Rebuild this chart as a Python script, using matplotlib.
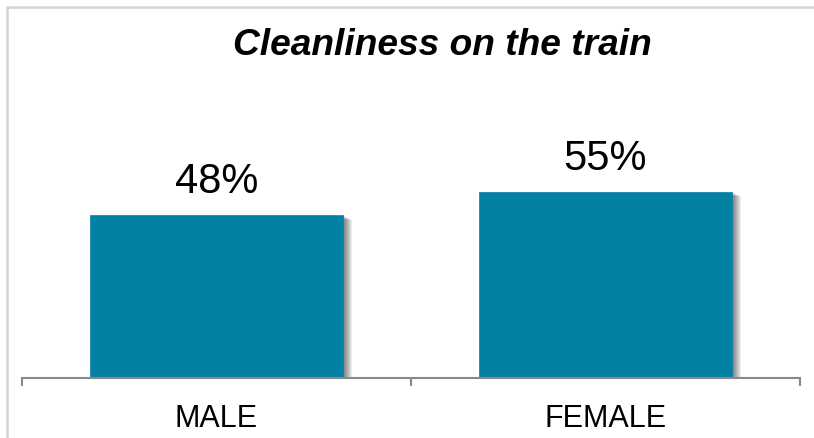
import matplotlib
matplotlib.use("Agg")
import matplotlib.pyplot as plt
import matplotlib.patheffects as pe
from matplotlib.lines import Line2D
from matplotlib.transforms import blended_transform_factory, offset_copy

categories = ["MALE", "FEMALE"]
values = [48, 55]
value_labels = ["48%", "55%"]
title = "Cleanliness on the train"

W, H, DPI = 814, 438, 100
fig = plt.figure(figsize=(W / DPI, H / DPI), dpi=DPI)
plt.rcParams['font.family'] = ['Liberation Sans', 'DejaVu Sans']

# figure border (top & left visible)
bx, by = 6.5 / W, 1 - 6.5 / H
fig.add_artist(Line2D([bx, bx, 1.0], [0.0, by, by], transform=fig.transFigure,
                      color='#D3D3D3', linewidth=1.8))

left, right = 22 / W, 800 / W
bottom = (H - 378) / H
height = 339 / H
ax = fig.add_axes([left, bottom, right - left, height])
ax.set_xlim(-0.5, 1.5)
ax.set_ylim(0, 100)

shadow_effects = []
for k in range(1, 10):
    shadow_effects.append(pe.SimplePatchShadow(offset=(k * 0.72, -k * 0.36),
                                               shadow_rgbFace='black', alpha=0.07))
shadow_effects.append(pe.Normal())

bars = ax.bar(range(len(categories)), values, width=0.65, color='#0381A5',
              edgecolor='#0381A5', linewidth=0.5, zorder=2)
for b in bars:
    b.set_path_effects(shadow_effects)

for i, (v, lab) in enumerate(zip(values, value_labels)):
    tr = offset_copy(ax.transData, fig=fig, x=0, y=22 * 72 / DPI, units='points')
    ax.text(i, v, lab, transform=tr, ha='center', va='baseline', fontsize=30,
            color='black')

blend = blended_transform_factory(ax.transData, ax.transAxes)
for i, c in enumerate(categories):
    tr = offset_copy(blend, fig=fig, x=0, y=-49 * 72 / DPI, units='points')
    ax.text(i, 0, c, transform=tr, ha='center', va='baseline', fontsize=22,
            color='black')

for s in ['left', 'right', 'top']:
    ax.spines[s].set_visible(False)
ax.spines['bottom'].set_color('#898989')
ax.spines['bottom'].set_linewidth(1.5)
ax.spines['bottom'].set_zorder(3)
ax.set_yticks([])
ax.set_xticks([-0.5, 0.5, 1.5])
ax.set_xticklabels([])
ax.tick_params(axis='x', length=8 * 72 / DPI, width=1.5, color='#898989', direction='out')

fig.text(442 / W, 1 - 55 / H, title, ha='center', va='baseline', fontsize=26.7,
         fontweight='bold', fontstyle='italic', color='black')

fig.savefig("out.png", dpi=DPI)
